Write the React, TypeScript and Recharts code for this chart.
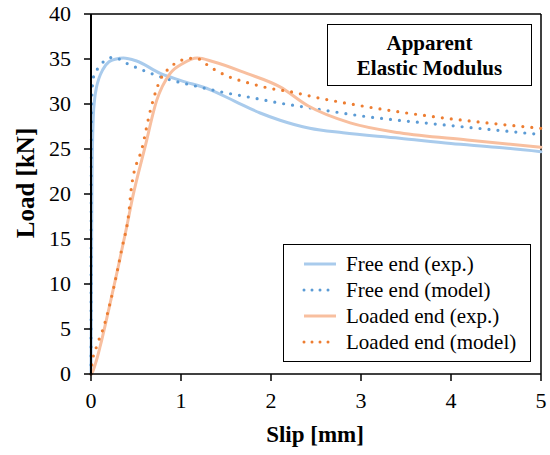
import { LineChart, Line, XAxis, YAxis, ReferenceLine } from 'recharts';

const xTicks = [0, 1, 2, 3, 4, 5];
const yTicks = [0, 5, 10, 15, 20, 25, 30, 35, 40];

const freeExpX = [0, 0.004, 0.008, 0.012, 0.018, 0.025, 0.04, 0.06, 0.09, 0.13, 0.2, 0.28, 0.36, 0.5, 0.77, 1.0, 1.32, 1.6, 1.88, 2.1, 2.43, 2.8, 3.43, 4.0, 4.5, 5.0];
const freeExpY = [0, 8, 16, 22, 26, 28.5, 30.5, 31.8, 32.9, 33.8, 34.7, 35.0, 35.1, 34.8, 33.4, 32.6, 31.6, 30.3, 29.0, 28.2, 27.3, 26.8, 26.2, 25.6, 25.2, 24.7];

const freeModelX = [0, 0.004, 0.01, 0.03, 0.08, 0.15, 0.25, 0.4, 0.54, 0.84, 1.16, 1.47, 1.79, 2.1, 2.41, 3.06, 3.8, 4.5, 5.0];
const freeModelY = [0, 25, 31, 33.1, 34.0, 34.8, 35.2, 34.5, 33.9, 32.8, 32.0, 31.3, 30.7, 30.1, 29.6, 28.6, 27.8, 27.1, 26.6];

const loadedExpX = [0, 0.02, 0.06, 0.1, 0.2, 0.3, 0.4, 0.46, 0.6, 0.73, 0.88, 1.02, 1.18, 1.36, 1.73, 2.1, 2.41, 2.88, 3.43, 4.18, 5.0];
const loadedExpY = [0, 0.3, 1.5, 3, 7.3, 11.8, 16.5, 19.5, 25.2, 30.4, 33.4, 34.5, 35.1, 34.7, 33.4, 31.9, 29.8, 27.9, 26.8, 26.0, 25.2];

const loadedModelX = [0, 0.01, 0.06, 0.14, 0.25, 0.34, 0.42, 0.45, 0.57, 0.66, 0.77, 0.86, 0.95, 1.05, 1.16, 1.34, 1.54, 1.73, 1.96, 2.25, 2.47, 3.06, 3.8, 4.4, 5.0];
const loadedModelY = [0, 1.1, 3, 5.2, 9.5, 13.8, 17.9, 20.8, 25.2, 29.3, 32.7, 33.9, 34.6, 35.0, 35.1, 34.0, 33.0, 32.4, 31.8, 31.3, 30.8, 29.7, 28.6, 27.9, 27.3];

const zip = (xs: number[], ys: number[]) => xs.map((x, i) => ({ x, y: ys[i] }));

const series = [
  { name: 'Free end (exp.)', data: zip(freeExpX, freeExpY), color: '#a9cbec', dotted: false },
  { name: 'Free end (model)', data: zip(freeModelX, freeModelY), color: '#5b9bd5', dotted: true },
  { name: 'Loaded end (exp.)', data: zip(loadedExpX, loadedExpY), color: '#f8bf9f', dotted: false },
  { name: 'Loaded end (model)', data: zip(loadedModelX, loadedModelY), color: '#ed7d31', dotted: true },
];

const FONT = "'Liberation Serif', 'Times New Roman', serif";
const tickStyle = { fontFamily: FONT, fontSize: 22, fill: '#000' };

const XTick = ({ x, y, payload }: any) => (
  <text x={x} y={y + 17} textAnchor="middle" style={tickStyle}>
    {payload.value}
  </text>
);

const YTick = ({ x, y, payload }: any) => (
  <text x={x - 2} y={y + 7} textAnchor="end" style={tickStyle}>
    {payload.value}
  </text>
);

export default function App() {
  return (
    <div style={{ position: 'absolute', left: 0, top: 0, width: 550, height: 455, background: '#fff', fontFamily: FONT }}>
      <LineChart width={550} height={455} margin={{ top: 14, right: 9, bottom: 51, left: 41 }} style={{ fontFamily: FONT }}>
        <XAxis
          type="number"
          dataKey="x"
          domain={[0, 5]}
          ticks={xTicks}
          height={30}
          tickSize={7}
          tickMargin={10}
          stroke="#000"
          strokeWidth={1.5}
          tick={XTick}
          tickLine={{ stroke: '#000', strokeWidth: 1.5 }}
        />
        <YAxis
          type="number"
          domain={[0, 40]}
          ticks={yTicks}
          width={50}
          tickSize={7}
          tickMargin={11}
          stroke="#000"
          strokeWidth={2}
          tick={YTick}
          tickLine={{ stroke: '#000', strokeWidth: 1.5 }}
        />
        <ReferenceLine y={40} stroke="#000" strokeWidth={1.5} />
        <ReferenceLine x={5} stroke="#000" strokeWidth={1.5} />
        {series.map((s) => (
          <Line
            key={s.name}
            data={s.data}
            dataKey="y"
            type="monotone"
            stroke={s.color}
            strokeWidth={s.dotted ? 3.2 : 3}
            strokeDasharray={s.dotted ? '0 9' : undefined}
            strokeLinecap="round"
            dot={false}
            activeDot={false}
            isAnimationActive={false}
          />
        ))}
      </LineChart>

      <div style={{ position: 'absolute', left: 26 - 75, top: 183 - 13, width: 150, height: 26, textAlign: 'center', transform: 'rotate(-90deg)', fontSize: 25, fontWeight: 'bold', lineHeight: '26px' }}>
        Load [kN]
      </div>
      <div style={{ position: 'absolute', left: 240, top: 422, width: 150, textAlign: 'center', fontSize: 23, fontWeight: 'bold', lineHeight: '26px' }}>
        Slip [mm]
      </div>

      <div style={{ position: 'absolute', left: 327, top: 24, width: 205, height: 62, border: '1.5px solid #000', textAlign: 'center', fontSize: 21, fontWeight: 'bold', lineHeight: '25px', boxSizing: 'border-box', paddingTop: 6 }}>
        Apparent<br />Elastic Modulus
      </div>

      <div style={{ position: 'absolute', left: 283, top: 244, width: 248, height: 118, border: '1.5px solid #000', boxSizing: 'border-box', paddingTop: 6 }}>
        {series.map((s) => (
          <div key={s.name} style={{ display: 'flex', alignItems: 'center', height: 26, fontSize: 21 }}>
            <svg width={62} height={10} style={{ flex: 'none' }}>
              <line x1={20} y1={5} x2={52} y2={5} stroke={s.color} strokeWidth={3} strokeDasharray={s.dotted ? '0 8' : undefined} strokeLinecap={s.dotted ? 'round' : 'butt'} />
            </svg>
            <span style={{ whiteSpace: 'nowrap' }}>{s.name}</span>
          </div>
        ))}
      </div>
    </div>
  );
}
